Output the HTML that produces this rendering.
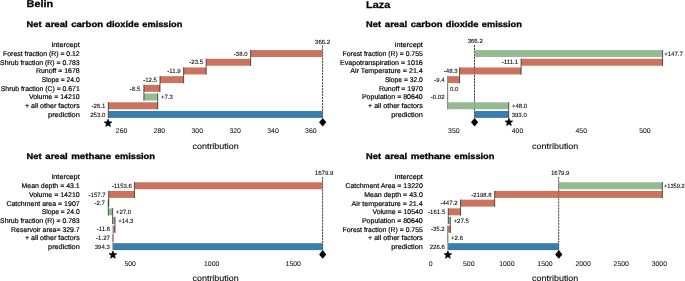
<!DOCTYPE html>
<html><head><meta charset="utf-8"><title>chart</title>
<style>
html,body{margin:0;padding:0;background:#fff;}
body{width:685px;height:281px;overflow:hidden;}
svg{display:block;font-family:"Liberation Sans",sans-serif;will-change:transform;transform:translateZ(0);text-rendering:geometricPrecision;}
.h1{font-weight:bold;font-size:9.8px;fill:#000;stroke:#000;stroke-width:0.25px;}
.h2{font-weight:bold;font-size:8.3px;fill:#000;stroke:#000;stroke-width:0.3px;}
.lab{font-size:6.9px;fill:#000;stroke:#000;stroke-width:0.18px;}
.val{font-size:6.05px;fill:#000;stroke:#000;stroke-width:0.07px;}
.xl{font-size:8.3px;fill:#000;stroke:#000;stroke-width:0.08px;}
.cn{stroke:#1c1c1c;stroke-width:0.72;}
.cn.g{stroke:#7d7d7d;stroke-width:0.9;}
.tk{font-size:6.9px;fill:#111;stroke:#111;stroke-width:0.06px;}
.dash{stroke:#1c1c1c;stroke-width:0.85;stroke-dasharray:2.2 0.83;}
</style></head><body>
<svg width="685" height="281" viewBox="0 0 685 281">
<rect width="685" height="281" fill="#fff"/>
<text x="26.60" y="7.25" class="h1" textLength="26.7" lengthAdjust="spacingAndGlyphs">Belin</text>
<text x="26.60" y="26.70" class="h2" textLength="14.9" lengthAdjust="spacingAndGlyphs">Net</text>
<text x="45.30" y="26.70" class="h2" textLength="22.4" lengthAdjust="spacingAndGlyphs">areal</text>
<text x="71.20" y="26.70" class="h2" textLength="31.9" lengthAdjust="spacingAndGlyphs">carbon</text>
<text x="106.20" y="26.70" class="h2" textLength="32.8" lengthAdjust="spacingAndGlyphs">dioxide</text>
<text x="142.30" y="26.70" class="h2" textLength="40.0" lengthAdjust="spacingAndGlyphs">emission</text>
<text x="51.70" y="47.25" class="lab" textLength="28.0" lengthAdjust="spacingAndGlyphs">intercept</text>
<text x="3.10" y="55.95" class="lab" textLength="76.6" lengthAdjust="spacingAndGlyphs">Forest fraction (R) = 0.12</text>
<text x="0.10" y="64.65" class="lab" textLength="79.6" lengthAdjust="spacingAndGlyphs">Shrub fraction (R) = 0.783</text>
<text x="35.90" y="73.35" class="lab" textLength="43.8" lengthAdjust="spacingAndGlyphs">Runoff = 1678</text>
<text x="41.70" y="82.05" class="lab" textLength="38.0" lengthAdjust="spacingAndGlyphs">Slope = 24.0</text>
<text x="0.80" y="90.75" class="lab" textLength="78.9" lengthAdjust="spacingAndGlyphs">Shrub fraction (C) = 0.671</text>
<text x="28.90" y="99.45" class="lab" textLength="50.8" lengthAdjust="spacingAndGlyphs">Volume = 14210</text>
<text x="24.90" y="108.15" class="lab" textLength="54.8" lengthAdjust="spacingAndGlyphs">+ all other factors</text>
<text x="48.10" y="116.85" class="lab" textLength="31.6" lengthAdjust="spacingAndGlyphs">prediction</text>
<line x1="322.60" y1="45.50" x2="322.60" y2="118.50" class="dash"/>
<rect x="250.66" y="50.07" width="71.94" height="6.96" fill="#c25a42" fill-opacity="0.85"/>
<text x="247.66" y="55.70" class="val" text-anchor="end">-38.0</text>
<rect x="206.17" y="58.77" width="44.49" height="6.96" fill="#c25a42" fill-opacity="0.85"/>
<text x="203.17" y="64.40" class="val" text-anchor="end">-23.5</text>
<rect x="183.64" y="67.47" width="22.53" height="6.96" fill="#c25a42" fill-opacity="0.85"/>
<text x="180.64" y="73.10" class="val" text-anchor="end">-11.9</text>
<rect x="159.98" y="76.17" width="23.66" height="6.96" fill="#c25a42" fill-opacity="0.85"/>
<text x="156.98" y="81.80" class="val" text-anchor="end">-12.5</text>
<rect x="143.89" y="84.87" width="16.09" height="6.96" fill="#c25a42" fill-opacity="0.85"/>
<text x="140.29" y="90.50" class="val" text-anchor="end">-8.5</text>
<rect x="143.89" y="93.57" width="13.82" height="6.96" fill="#83ae81" fill-opacity="0.85"/>
<text x="160.91" y="99.20" class="val">+7.3</text>
<rect x="108.30" y="102.27" width="49.41" height="6.96" fill="#c25a42" fill-opacity="0.85"/>
<text x="105.30" y="107.90" class="val" text-anchor="end">-26.1</text>
<rect x="108.30" y="110.97" width="214.30" height="6.96" fill="#17679d" fill-opacity="0.85"/>
<text x="105.30" y="116.60" class="val" text-anchor="end">253.0</text>
<line x1="250.66" y1="49.87" x2="250.66" y2="65.93" class="cn"/>
<line x1="206.17" y1="58.57" x2="206.17" y2="74.63" class="cn"/>
<line x1="183.64" y1="67.27" x2="183.64" y2="83.33" class="cn"/>
<line x1="159.98" y1="75.97" x2="159.98" y2="92.03" class="cn"/>
<line x1="143.89" y1="84.67" x2="143.89" y2="100.73" class="cn"/>
<line x1="157.71" y1="93.37" x2="157.71" y2="109.43" class="cn"/>
<line x1="108.30" y1="102.07" x2="108.30" y2="118.13" class="cn"/>
<text x="322.60" y="43.65" class="val" text-anchor="middle">366.2</text>
<polygon points="322.70,117.90 326.30,122.20 322.70,126.50 319.10,122.20" fill="#000"/>
<polygon points="108.10,119.25 109.10,121.82 111.85,121.98 109.72,123.73 110.42,126.40 108.10,124.90 105.78,126.40 106.48,123.73 104.34,121.98 107.10,121.82" fill="#000" stroke="#000" stroke-width="0.75" stroke-linejoin="miter"/>
<text x="121.55" y="133.30" class="tk" text-anchor="middle">260</text>
<text x="159.41" y="133.30" class="tk" text-anchor="middle">280</text>
<text x="197.27" y="133.30" class="tk" text-anchor="middle">300</text>
<text x="235.14" y="133.30" class="tk" text-anchor="middle">320</text>
<text x="273.00" y="133.30" class="tk" text-anchor="middle">340</text>
<text x="310.86" y="133.30" class="tk" text-anchor="middle">360</text>
<text x="192.50" y="148.60" class="xl" textLength="46.2" lengthAdjust="spacingAndGlyphs">contribution</text>
<text x="366.10" y="7.65" class="h1" textLength="24.3" lengthAdjust="spacingAndGlyphs">Laza</text>
<text x="366.10" y="26.70" class="h2" textLength="14.9" lengthAdjust="spacingAndGlyphs">Net</text>
<text x="384.80" y="26.70" class="h2" textLength="22.4" lengthAdjust="spacingAndGlyphs">areal</text>
<text x="410.70" y="26.70" class="h2" textLength="31.9" lengthAdjust="spacingAndGlyphs">carbon</text>
<text x="445.70" y="26.70" class="h2" textLength="32.8" lengthAdjust="spacingAndGlyphs">dioxide</text>
<text x="481.80" y="26.70" class="h2" textLength="40.0" lengthAdjust="spacingAndGlyphs">emission</text>
<text x="394.80" y="47.25" class="lab" textLength="28.0" lengthAdjust="spacingAndGlyphs">intercept</text>
<text x="342.60" y="55.95" class="lab" textLength="80.2" lengthAdjust="spacingAndGlyphs">Forest fraction (R) = 0.755</text>
<text x="340.00" y="64.65" class="lab" textLength="82.8" lengthAdjust="spacingAndGlyphs">Evapotranspiration = 1016</text>
<text x="350.30" y="73.35" class="lab" textLength="72.5" lengthAdjust="spacingAndGlyphs">Air Temperature = 21.4</text>
<text x="384.90" y="82.05" class="lab" textLength="37.9" lengthAdjust="spacingAndGlyphs">Slope = 32.0</text>
<text x="378.90" y="90.75" class="lab" textLength="43.9" lengthAdjust="spacingAndGlyphs">Runoff = 1970</text>
<text x="361.90" y="99.45" class="lab" textLength="60.9" lengthAdjust="spacingAndGlyphs">Population = 80640</text>
<text x="368.00" y="108.15" class="lab" textLength="54.8" lengthAdjust="spacingAndGlyphs">+ all other factors</text>
<text x="391.20" y="116.85" class="lab" textLength="31.6" lengthAdjust="spacingAndGlyphs">prediction</text>
<line x1="474.50" y1="44.80" x2="474.50" y2="118.50" class="dash"/>
<rect x="474.50" y="50.07" width="188.10" height="6.96" fill="#83ae81" fill-opacity="0.85"/>
<text x="664.20" y="55.70" class="val">+147.7</text>
<rect x="521.11" y="58.77" width="141.49" height="6.96" fill="#c25a42" fill-opacity="0.85"/>
<text x="518.11" y="64.40" class="val" text-anchor="end">-111.1</text>
<rect x="459.60" y="67.47" width="61.51" height="6.96" fill="#c25a42" fill-opacity="0.85"/>
<text x="457.60" y="73.10" class="val" text-anchor="end">-48.3</text>
<rect x="447.63" y="76.17" width="11.97" height="6.96" fill="#c25a42" fill-opacity="0.85"/>
<text x="444.63" y="81.80" class="val" text-anchor="end">-9.4</text>
<text x="449.93" y="90.50" class="val">0.0</text>
<text x="444.60" y="99.20" class="val" text-anchor="end">-0.02</text>
<rect x="447.60" y="102.27" width="61.13" height="6.96" fill="#83ae81" fill-opacity="0.85"/>
<text x="511.93" y="107.90" class="val">+48.0</text>
<rect x="474.50" y="110.97" width="34.13" height="6.96" fill="#17679d" fill-opacity="0.85"/>
<text x="511.63" y="116.60" class="val">393.0</text>
<line x1="662.60" y1="49.87" x2="662.60" y2="65.93" class="cn"/>
<line x1="521.11" y1="58.57" x2="521.11" y2="74.63" class="cn"/>
<line x1="459.60" y1="67.27" x2="459.60" y2="83.33" class="cn"/>
<line x1="447.63" y1="75.97" x2="447.63" y2="92.03" class="cn g"/>
<line x1="447.63" y1="84.67" x2="447.63" y2="100.73" class="cn g"/>
<line x1="447.60" y1="93.37" x2="447.60" y2="109.43" class="cn g"/>
<line x1="508.73" y1="102.07" x2="508.73" y2="118.13" class="cn"/>
<text x="475.20" y="42.90" class="val" text-anchor="middle">366.2</text>
<polygon points="474.60,117.90 478.20,122.20 474.60,126.50 471.00,122.20" fill="#000"/>
<polygon points="508.93,118.35 509.93,120.92 512.69,121.08 510.55,122.83 511.25,125.50 508.93,124.00 506.61,125.50 507.31,122.83 505.17,121.08 507.93,120.92" fill="#000" stroke="#000" stroke-width="0.75" stroke-linejoin="miter"/>
<text x="453.87" y="132.90" class="tk" text-anchor="middle">350</text>
<text x="517.54" y="132.90" class="tk" text-anchor="middle">400</text>
<text x="581.22" y="132.90" class="tk" text-anchor="middle">450</text>
<text x="644.89" y="132.90" class="tk" text-anchor="middle">500</text>
<text x="532.10" y="148.60" class="xl" textLength="46.2" lengthAdjust="spacingAndGlyphs">contribution</text>
<text x="26.60" y="158.90" class="h2" textLength="14.9" lengthAdjust="spacingAndGlyphs">Net</text>
<text x="45.30" y="158.90" class="h2" textLength="22.4" lengthAdjust="spacingAndGlyphs">areal</text>
<text x="71.20" y="158.90" class="h2" textLength="40.0" lengthAdjust="spacingAndGlyphs">methane</text>
<text x="114.80" y="158.90" class="h2" textLength="40.1" lengthAdjust="spacingAndGlyphs">emission</text>
<text x="51.70" y="179.45" class="lab" textLength="28.0" lengthAdjust="spacingAndGlyphs">intercept</text>
<text x="21.50" y="188.15" class="lab" textLength="58.2" lengthAdjust="spacingAndGlyphs">Mean depth = 43.1</text>
<text x="28.90" y="196.85" class="lab" textLength="50.8" lengthAdjust="spacingAndGlyphs">Volume = 14210</text>
<text x="6.40" y="205.55" class="lab" textLength="73.3" lengthAdjust="spacingAndGlyphs">Catchment area = 1907</text>
<text x="41.70" y="214.25" class="lab" textLength="38.0" lengthAdjust="spacingAndGlyphs">Slope = 24.0</text>
<text x="0.10" y="222.95" class="lab" textLength="79.6" lengthAdjust="spacingAndGlyphs">Shrub fraction (R) = 0.783</text>
<text x="11.10" y="231.65" class="lab" textLength="68.6" lengthAdjust="spacingAndGlyphs">Reservoir area= 329.7</text>
<text x="24.90" y="240.35" class="lab" textLength="54.8" lengthAdjust="spacingAndGlyphs">+ all other factors</text>
<text x="48.10" y="249.05" class="lab" textLength="31.6" lengthAdjust="spacingAndGlyphs">prediction</text>
<line x1="322.59" y1="177.20" x2="322.59" y2="250.70" class="dash"/>
<rect x="134.43" y="182.27" width="188.16" height="6.96" fill="#c25a42" fill-opacity="0.85"/>
<text x="131.93" y="187.90" class="val" text-anchor="end">-1153.6</text>
<rect x="108.71" y="190.97" width="25.72" height="6.96" fill="#c25a42" fill-opacity="0.85"/>
<text x="105.71" y="196.60" class="val" text-anchor="end">-157.7</text>
<rect x="108.27" y="199.67" width="0.44" height="6.96" fill="#c25a42" fill-opacity="0.85"/>
<text x="104.87" y="205.30" class="val" text-anchor="end">-2.7</text>
<rect x="108.27" y="208.37" width="4.40" height="6.96" fill="#83ae81" fill-opacity="0.85"/>
<text x="115.87" y="214.00" class="val">+27.0</text>
<rect x="112.67" y="217.07" width="2.33" height="6.96" fill="#83ae81" fill-opacity="0.85"/>
<text x="118.20" y="222.70" class="val">+14.3</text>
<rect x="113.11" y="225.77" width="1.89" height="6.96" fill="#c25a42" fill-opacity="0.85"/>
<text x="110.11" y="231.40" class="val" text-anchor="end">-11.6</text>
<rect x="112.90" y="234.47" width="0.21" height="6.96" fill="#c25a42" fill-opacity="0.85"/>
<text x="109.90" y="240.10" class="val" text-anchor="end">-1.27</text>
<rect x="112.90" y="243.17" width="209.69" height="6.96" fill="#17679d" fill-opacity="0.85"/>
<text x="109.90" y="248.80" class="val" text-anchor="end">394.3</text>
<line x1="134.43" y1="182.07" x2="134.43" y2="198.13" class="cn"/>
<line x1="108.71" y1="190.77" x2="108.71" y2="206.83" class="cn"/>
<line x1="108.27" y1="199.47" x2="108.27" y2="215.53" class="cn"/>
<line x1="112.67" y1="208.17" x2="112.67" y2="224.23" class="cn"/>
<line x1="115.00" y1="216.87" x2="115.00" y2="232.93" class="cn"/>
<line x1="113.11" y1="225.57" x2="113.11" y2="241.63" class="cn g"/>
<line x1="112.90" y1="234.27" x2="112.90" y2="250.33" class="cn g"/>
<text x="324.09" y="175.25" class="val" text-anchor="middle">1679.9</text>
<polygon points="322.69,250.10 326.29,254.40 322.69,258.70 319.09,254.40" fill="#000"/>
<polygon points="112.90,251.05 113.90,253.62 116.66,253.78 114.52,255.53 115.22,258.20 112.90,256.70 110.58,258.20 111.28,255.53 109.14,253.78 111.90,253.62" fill="#000" stroke="#000" stroke-width="0.75" stroke-linejoin="miter"/>
<text x="130.14" y="265.65" class="tk" text-anchor="middle">500</text>
<text x="211.69" y="265.65" class="tk" text-anchor="middle">1000</text>
<text x="293.25" y="265.65" class="tk" text-anchor="middle">1500</text>
<text x="192.50" y="280.50" class="xl" textLength="46.2" lengthAdjust="spacingAndGlyphs">contribution</text>
<text x="366.10" y="158.90" class="h2" textLength="14.9" lengthAdjust="spacingAndGlyphs">Net</text>
<text x="384.80" y="158.90" class="h2" textLength="22.4" lengthAdjust="spacingAndGlyphs">areal</text>
<text x="410.70" y="158.90" class="h2" textLength="40.0" lengthAdjust="spacingAndGlyphs">methane</text>
<text x="454.30" y="158.90" class="h2" textLength="40.1" lengthAdjust="spacingAndGlyphs">emission</text>
<text x="394.80" y="179.45" class="lab" textLength="28.0" lengthAdjust="spacingAndGlyphs">intercept</text>
<text x="345.40" y="188.15" class="lab" textLength="77.4" lengthAdjust="spacingAndGlyphs">Catchment Area = 13220</text>
<text x="364.20" y="196.85" class="lab" textLength="58.6" lengthAdjust="spacingAndGlyphs">Mean depth = 43.0</text>
<text x="351.60" y="205.55" class="lab" textLength="71.2" lengthAdjust="spacingAndGlyphs">Air temperature = 21.4</text>
<text x="372.40" y="214.25" class="lab" textLength="50.4" lengthAdjust="spacingAndGlyphs">Volume = 10540</text>
<text x="361.90" y="222.95" class="lab" textLength="60.9" lengthAdjust="spacingAndGlyphs">Population = 80640</text>
<text x="342.60" y="231.65" class="lab" textLength="80.2" lengthAdjust="spacingAndGlyphs">Forest fraction (R) = 0.755</text>
<text x="368.00" y="240.35" class="lab" textLength="54.8" lengthAdjust="spacingAndGlyphs">+ all other factors</text>
<text x="391.20" y="249.05" class="lab" textLength="31.6" lengthAdjust="spacingAndGlyphs">prediction</text>
<line x1="558.70" y1="177.20" x2="558.70" y2="250.70" class="dash"/>
<rect x="558.70" y="182.27" width="103.64" height="6.96" fill="#83ae81" fill-opacity="0.85"/>
<text x="663.94" y="187.90" class="val" textLength="20.7" lengthAdjust="spacingAndGlyphs">+1359.2</text>
<rect x="494.68" y="190.97" width="167.66" height="6.96" fill="#c25a42" fill-opacity="0.85"/>
<text x="491.68" y="196.60" class="val" text-anchor="end">-2198.8</text>
<rect x="460.58" y="199.67" width="34.10" height="6.96" fill="#c25a42" fill-opacity="0.85"/>
<text x="457.58" y="205.30" class="val" text-anchor="end">-447.2</text>
<rect x="448.27" y="208.37" width="12.31" height="6.96" fill="#c25a42" fill-opacity="0.85"/>
<text x="445.27" y="214.00" class="val" text-anchor="end">-161.5</text>
<rect x="448.27" y="217.07" width="2.10" height="6.96" fill="#83ae81" fill-opacity="0.85"/>
<text x="453.57" y="222.70" class="val">+27.5</text>
<rect x="447.68" y="225.77" width="2.68" height="6.96" fill="#c25a42" fill-opacity="0.85"/>
<text x="444.68" y="231.40" class="val" text-anchor="end">-35.2</text>
<rect x="447.68" y="234.47" width="0.20" height="6.96" fill="#83ae81" fill-opacity="0.85"/>
<text x="451.08" y="240.10" class="val">+2.6</text>
<rect x="447.89" y="243.17" width="110.81" height="6.96" fill="#17679d" fill-opacity="0.85"/>
<text x="444.89" y="248.80" class="val" text-anchor="end">226.6</text>
<line x1="662.34" y1="182.07" x2="662.34" y2="198.13" class="cn"/>
<line x1="494.68" y1="190.77" x2="494.68" y2="206.83" class="cn"/>
<line x1="460.58" y1="199.47" x2="460.58" y2="215.53" class="cn"/>
<line x1="448.27" y1="208.17" x2="448.27" y2="224.23" class="cn"/>
<line x1="450.37" y1="216.87" x2="450.37" y2="232.93" class="cn"/>
<line x1="447.68" y1="225.57" x2="447.68" y2="241.63" class="cn g"/>
<line x1="447.88" y1="234.27" x2="447.88" y2="250.33" class="cn g"/>
<text x="560.20" y="175.25" class="val" text-anchor="middle">1679.9</text>
<polygon points="558.80,250.10 562.40,254.40 558.80,258.70 555.20,254.40" fill="#000"/>
<polygon points="447.89,251.05 448.89,253.62 451.64,253.78 449.51,255.53 450.21,258.20 447.89,256.70 445.57,258.20 446.27,255.53 444.13,253.78 446.89,253.62" fill="#000" stroke="#000" stroke-width="0.75" stroke-linejoin="miter"/>
<text x="430.61" y="265.65" class="tk" text-anchor="middle">0</text>
<text x="468.74" y="265.65" class="tk" text-anchor="middle">500</text>
<text x="506.86" y="265.65" class="tk" text-anchor="middle">1000</text>
<text x="544.99" y="265.65" class="tk" text-anchor="middle">1500</text>
<text x="583.11" y="265.65" class="tk" text-anchor="middle">2000</text>
<text x="621.24" y="265.65" class="tk" text-anchor="middle">2500</text>
<text x="659.36" y="265.65" class="tk" text-anchor="middle">3000</text>
<text x="532.10" y="280.50" class="xl" textLength="46.2" lengthAdjust="spacingAndGlyphs">contribution</text>
</svg>
</body></html>
